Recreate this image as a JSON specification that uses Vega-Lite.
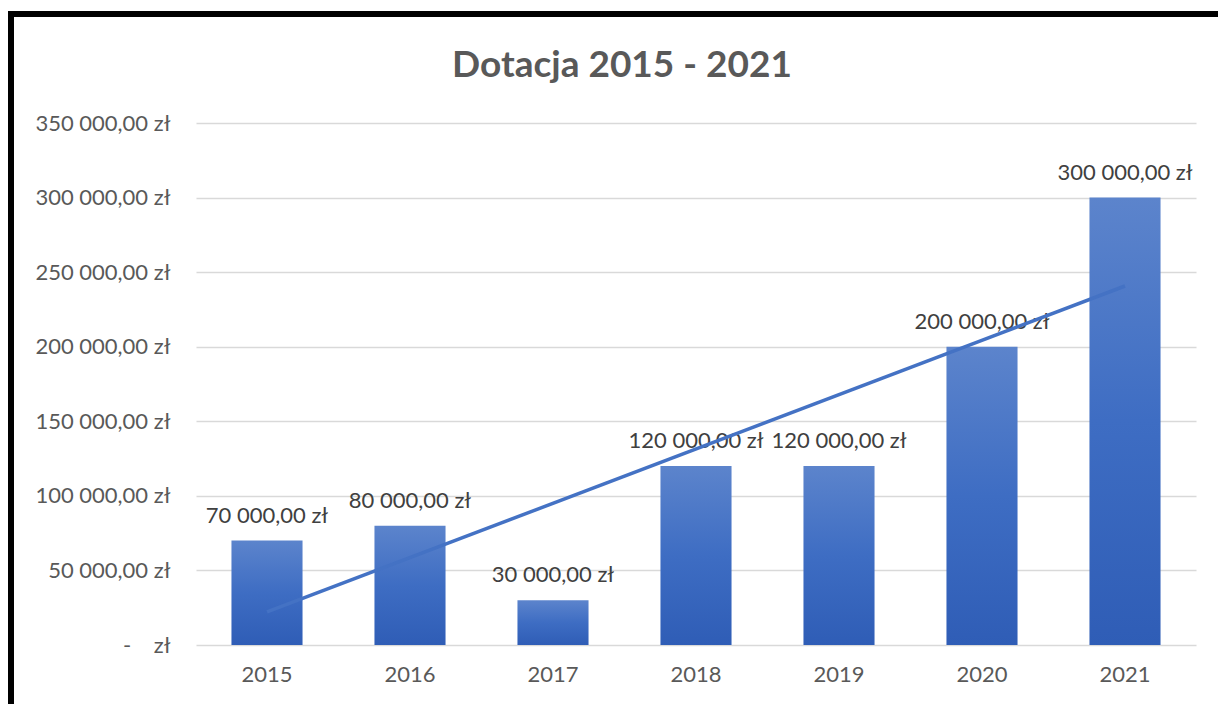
{
  "$schema": "https://vega.github.io/schema/vega-lite/v6.json",
  "autosize": {"type": "none"},
  "width": 1222,
  "height": 705,
  "padding": {"left": 11, "top": 14, "right": -15, "bottom": -15},
  "background": "white",
  "title": {
    "text": "Dotacja 2015 - 2021",
    "font": "Lato",
    "fontSize": 37,
    "fontWeight": "bold",
    "color": "#595959",
    "anchor": "middle",
    "offset": -71
  },
  "data": {
    "values": [
      {"year": 2015, "value": 70000},
      {"year": 2016, "value": 80000},
      {"year": 2017, "value": 30000},
      {"year": 2018, "value": 120000},
      {"year": 2019, "value": 120000},
      {"year": 2020, "value": 200000},
      {"year": 2021, "value": 300000}
    ]
  },
  "encoding": {
    "x": {
      "field": "year",
      "type": "ordinal",
      "scale": {"range": [185, 1185], "paddingInner": 0.503, "paddingOuter": 0.248},
      "axis": {
        "title": null,
        "domain": false,
        "ticks": false,
        "tickSize": 0,
        "labelPadding": -55,
        "labelAngle": 0,
        "labelFont": "Lato",
        "labelFontSize": 22,
        "labelColor": "#595959"
      }
    }
  },
  "layer": [
    {
      "mark": {
        "type": "bar",
        "color": {
          "gradient": "linear",
          "x1": 0, "y1": 0, "x2": 0, "y2": 1,
          "stops": [
            {"offset": 0, "color": "#5C84CC"},
            {"offset": 0.5, "color": "#3E6DC3"},
            {"offset": 1, "color": "#2F5DB6"}
          ]
        }
      },
      "encoding": {
        "y": {
          "field": "value",
          "type": "quantitative",
          "scale": {"domain": [0, 350000], "range": [631, 109], "nice": false, "zero": true},
          "axis": {
            "title": null,
            "domain": false,
            "ticks": false,
            "tickSize": 0,
            "values": [0, 50000, 100000, 150000, 200000, 250000, 300000, 350000],
            "format": "$,.2f",
            "labelExpr": "datum.value == 0 ? '-\u00a0\u00a0\u00a0\u00a0zł' : datum.label",
            "labelPadding": -159,
            "labelAlign": "right",
            "labelFont": "Lato",
            "labelFontSize": 22,
            "labelColor": "#595959",
            "gridColor": "#D9D9D9",
            "gridWidth": 1.5
          }
        }
      }
    },
    {
      "mark": {
        "type": "text",
        "font": "Lato",
        "fontSize": 22,
        "color": "#404040",
        "baseline": "alphabetic",
        "dy": -18
      },
      "encoding": {
        "y": {"field": "value", "type": "quantitative"},
        "text": {"field": "value", "type": "quantitative", "format": "$,.2f"}
      }
    },
    {
      "transform": [{"regression": "value", "on": "year"}],
      "mark": {"type": "line", "color": "#4472C4", "strokeWidth": 3.5},
      "encoding": {
        "y": {"field": "value", "type": "quantitative"}
      }
    }
  ],
  "config": {
    "view": {"stroke": "#000000", "strokeWidth": 6},
    "locale": {
      "number": {
        "decimal": ",",
        "thousands": "\u00a0",
        "grouping": [3],
        "currency": ["", "\u00a0zł"]
      }
    }
  }
}
